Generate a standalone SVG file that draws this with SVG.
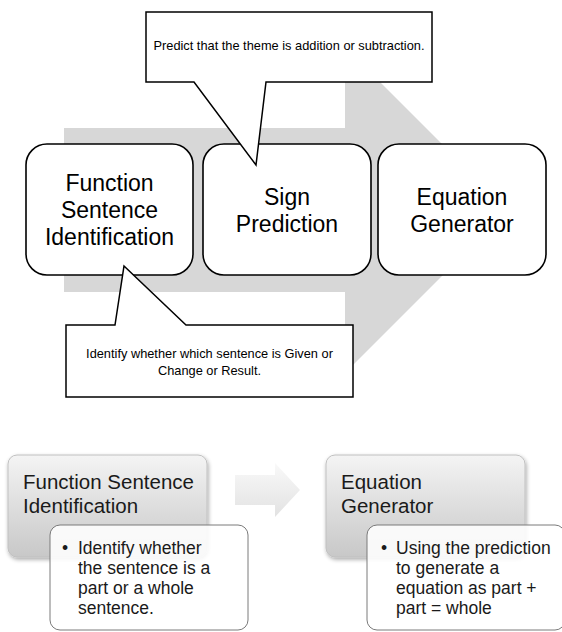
<svg xmlns="http://www.w3.org/2000/svg" width="562" height="632" viewBox="0 0 562 632">
<style>
text{font-family:"Liberation Sans",Arial,sans-serif;fill:#000}
.box{fill:#fff;stroke:#000;stroke-width:1.6}
.call{fill:#fff;stroke:#000;stroke-width:1.5;stroke-linejoin:miter}
.big{font-size:23px;text-anchor:middle}
.note{font-size:12.8px;text-anchor:middle}
.gbox{fill:url(#gg);stroke:#c0c0c0;stroke-width:1}
.bbox{fill:#fff;fill-opacity:0.88;stroke:#7a7a7a;stroke-width:1}
.head{font-size:20.5px;fill:#1a1a1a}
.bul{font-size:17.5px;fill:#1a1a1a}
</style>
<defs>
<linearGradient id="gg" x1="0" y1="0" x2="0" y2="1">
<stop offset="0" stop-color="#f4f4f4"/>
<stop offset="1" stop-color="#c8c8c8"/>
</linearGradient>
<linearGradient id="ga" x1="0" y1="0" x2="0" y2="1">
<stop offset="0" stop-color="#f9f9f9"/>
<stop offset="1" stop-color="#e2e2e2"/>
</linearGradient>
<filter id="sh" x="-10%" y="-10%" width="130%" height="130%">
<feGaussianBlur in="SourceAlpha" stdDeviation="2"/>
<feOffset dx="1" dy="2" result="b"/>
<feComponentTransfer><feFuncA type="linear" slope="0.35"/></feComponentTransfer>
<feMerge><feMergeNode/><feMergeNode in="SourceGraphic"/></feMerge>
</filter>
</defs>

<g id="connectors">
<polygon id="bigArrow" points="64,128 345,128 345,47 508,210 345,373 345,292 64,292" fill="#d7d7d7"/>
<polygon id="smallArrow" points="235,475 275,475 275,463 300,490 275,517 275,505 235,505" fill="url(#ga)"/>
</g>

<g id="node-fsi">
<rect class="box" x="26" y="144" width="167" height="131" rx="21"/>
<text class="big" x="109.5" y="191">Function</text>
<text class="big" x="109.5" y="218">Sentence</text>
<text class="big" x="109.5" y="245">Identification</text>
</g>
<g id="node-sign">
<rect class="box" x="203" y="144" width="168" height="131" rx="21"/>
<text class="big" x="287" y="205">Sign</text>
<text class="big" x="287" y="232">Prediction</text>
</g>
<g id="node-eq">
<rect class="box" x="378" y="144" width="168" height="131" rx="21"/>
<text class="big" x="462" y="205">Equation</text>
<text class="big" x="462" y="232">Generator</text>
</g>

<g id="callout-top">
<path class="call" d="M146,12 H432 V82 H266 L256,165 L194,82 H146 Z"/>
<text class="note" x="289" y="50">Predict that the theme is addition or subtraction.</text>
</g>
<g id="callout-bottom">
<path class="call" d="M66,325 H115 L124,266 L186,325 H353 V397 H66 Z"/>
<text class="note" x="209.5" y="358">Identify whether which sentence is Given or</text>
<text class="note" x="209.5" y="375">Change or Result.</text>
</g>

<g id="node-fsi2">
<rect class="gbox" x="8" y="455" width="199" height="102" rx="9" filter="url(#sh)"/>
<text class="head" x="23" y="489">Function Sentence</text>
<text class="head" x="23" y="513">Identification</text>
</g>
<g id="node-fsi2-detail">
<rect class="bbox" x="50" y="525" width="198" height="105" rx="10"/>
<text class="bul" x="62" y="554">•</text>
<text class="bul" x="78" y="554">Identify whether</text>
<text class="bul" x="78" y="574">the sentence is a</text>
<text class="bul" x="78" y="594">part or a whole</text>
<text class="bul" x="78" y="614">sentence.</text>
</g>

<g id="node-eq2">
<rect class="gbox" x="326" y="455" width="199" height="102" rx="9" filter="url(#sh)"/>
<text class="head" x="341" y="489">Equation</text>
<text class="head" x="341" y="513">Generator</text>
</g>
<g id="node-eq2-detail">
<rect class="bbox" x="367" y="525" width="198" height="105" rx="10"/>
<text class="bul" x="381" y="554">•</text>
<text class="bul" x="396" y="554">Using the prediction</text>
<text class="bul" x="396" y="574">to generate a</text>
<text class="bul" x="396" y="594">equation as part +</text>
<text class="bul" x="396" y="614">part = whole</text>
</g>
</svg>
